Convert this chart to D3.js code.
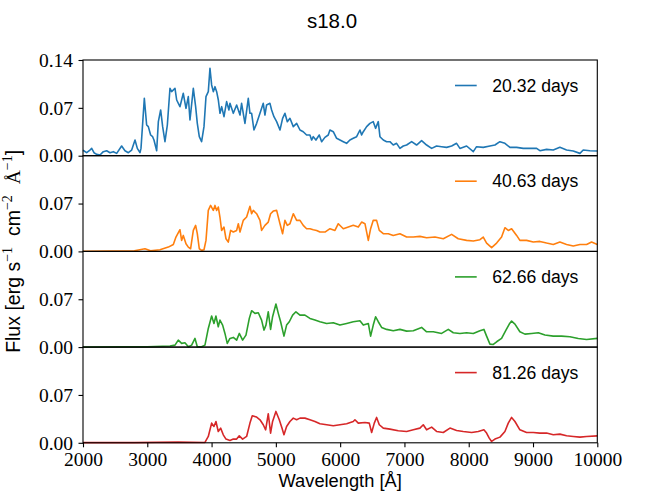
<!DOCTYPE html>
<meta charset="utf-8">
<style>
    body { margin: 0; background: #fff; }
    .tick text { font-family: "Liberation Serif", "Times New Roman", serif; font-size: 19.5px; fill: #000; }
    .tick line { stroke: #000; stroke-width: 1.1; }
    .sans { font-family: "Liberation Sans", Arial, sans-serif; fill: #000; }
    .serif { font-family: "Liberation Serif", "Times New Roman", serif; }
</style>
<svg id="chart" width="664" height="498"></svg>
<script src="https://cdn.jsdelivr.net/npm/d3@7/dist/d3.min.js"></script>
<script>
    const title = "s18.0";
    const epochs = ["20.32 days", "40.63 days", "62.66 days", "81.26 days"];
    const xTicks = [2000, 3000, 4000, 5000, 6000, 7000, 8000, 9000, 10000];
    const yTicksTop = [0, 0.07, 0.14];
    const yTicks = [0, 0.07];

    // [wavelength (A), flux]
    const spec20 = [
        [2000, 0.0080], [2057, 0.0044], [2098, 0.0073], [2135, 0.0107], [2171, 0.0044], [2213, 0.0020],
        [2264, 0.0010], [2316, 0.0059], [2368, 0.0073], [2420, 0.0044], [2472, 0.0059], [2524, 0.0034],
        [2601, 0.0142], [2653, 0.0073], [2705, 0.0044], [2757, 0.0083], [2809, 0.0229], [2845, 0.0107],
        [2886, 0.0044], [2902, 0.0107], [2954, 0.0839], [2990, 0.0449], [3016, 0.0425], [3052, 0.0303],
        [3083, 0.0278], [3104, 0.0229], [3146, 0.0073], [3172, 0.0498], [3208, 0.0669], [3239, 0.0425],
        [3275, 0.0205], [3312, 0.0449], [3353, 0.0986], [3379, 0.0937], [3431, 0.0986], [3457, 0.0815],
        [3508, 0.0717], [3560, 0.0913], [3602, 0.0693], [3638, 0.0864], [3664, 0.0522], [3716, 0.0986],
        [3752, 0.0717], [3778, 0.0473], [3809, 0.0278], [3845, 0.0205], [3882, 0.0425], [3913, 0.0864],
        [3949, 0.0937], [3975, 0.1279], [4001, 0.1035], [4027, 0.0937], [4053, 0.1010], [4079, 0.0937],
        [4105, 0.0815], [4131, 0.0620], [4157, 0.0717], [4193, 0.0571], [4234, 0.0791], [4270, 0.0669],
        [4286, 0.0766], [4338, 0.0620], [4390, 0.0742], [4442, 0.0595], [4467, 0.0766], [4519, 0.0473],
        [4571, 0.0839], [4597, 0.0620], [4623, 0.0620], [4659, 0.0376], [4701, 0.0473], [4753, 0.0620],
        [4804, 0.0766], [4830, 0.0595], [4856, 0.0742], [4908, 0.0766], [4934, 0.0669], [4970, 0.0571],
        [5012, 0.0498], [5064, 0.0376], [5105, 0.0547], [5141, 0.0620], [5178, 0.0498], [5219, 0.0547],
        [5271, 0.0425], [5323, 0.0473], [5375, 0.0376], [5426, 0.0351], [5478, 0.0303], [5530, 0.0303],
        [5556, 0.0229], [5582, 0.0278], [5623, 0.0229], [5675, 0.0303], [5712, 0.0205], [5763, 0.0268],
        [5815, 0.0303], [5841, 0.0376], [5893, 0.0351], [5945, 0.0254], [5997, 0.0229], [6049, 0.0205],
        [6100, 0.0181], [6152, 0.0229], [6204, 0.0254], [6256, 0.0278], [6308, 0.0376], [6334, 0.0303],
        [6360, 0.0351], [6412, 0.0425], [6463, 0.0473], [6515, 0.0498], [6551, 0.0400], [6593, 0.0498],
        [6619, 0.0278], [6671, 0.0229], [6723, 0.0205], [6774, 0.0205], [6826, 0.0156], [6878, 0.0181],
        [6930, 0.0107], [6982, 0.0142], [7034, 0.0156], [7112, 0.0205], [7189, 0.0156], [7267, 0.0220],
        [7345, 0.0156], [7423, 0.0107], [7500, 0.0142], [7578, 0.0132], [7656, 0.0122], [7734, 0.0142],
        [7811, 0.0181], [7863, 0.0107], [7967, 0.0142], [8071, 0.0059], [8122, 0.0132], [8226, 0.0122],
        [8330, 0.0142], [8408, 0.0156], [8485, 0.0205], [8563, 0.0181], [8641, 0.0122], [8745, 0.0122],
        [8848, 0.0107], [8952, 0.0107], [9056, 0.0107], [9107, 0.0073], [9211, 0.0093], [9315, 0.0083],
        [9418, 0.0122], [9522, 0.0083], [9626, 0.0068], [9730, 0.0034], [9781, 0.0083], [9885, 0.0073],
        [10000, 0.0068]
    ];

    const spec40 = [
        [2000, 0.0003], [2400, 0.0005], [2800, 0.0010], [2964, 0.0040], [3050, 0.0010], [3197, 0.0024],
        [3327, 0.0063], [3405, 0.0102], [3446, 0.0210], [3508, 0.0317], [3534, 0.0161], [3560, 0.0234],
        [3602, 0.0112], [3638, 0.0063], [3674, 0.0039], [3716, 0.0307], [3752, 0.0381], [3778, 0.0259],
        [3809, 0.0039], [3845, 0.0015], [3882, 0.0024], [3913, 0.0161], [3949, 0.0600], [3985, 0.0673],
        [4027, 0.0600], [4053, 0.0673], [4079, 0.0600], [4105, 0.0649], [4130, 0.0503], [4156, 0.0307],
        [4193, 0.0356], [4224, 0.0185], [4260, 0.0137], [4296, 0.0307], [4338, 0.0283], [4390, 0.0307],
        [4416, 0.0405], [4442, 0.0283], [4493, 0.0454], [4545, 0.0503], [4597, 0.0659], [4623, 0.0551],
        [4649, 0.0600], [4701, 0.0551], [4753, 0.0454], [4778, 0.0307], [4830, 0.0381], [4882, 0.0429],
        [4918, 0.0551], [4960, 0.0590], [5012, 0.0600], [5064, 0.0405], [5105, 0.0259], [5141, 0.0454],
        [5178, 0.0381], [5219, 0.0405], [5271, 0.0551], [5323, 0.0454], [5375, 0.0454], [5426, 0.0381],
        [5478, 0.0332], [5530, 0.0332], [5582, 0.0317], [5634, 0.0307], [5686, 0.0283], [5764, 0.0283],
        [5842, 0.0332], [5919, 0.0307], [5971, 0.0405], [6049, 0.0332], [6127, 0.0356], [6204, 0.0381],
        [6282, 0.0356], [6334, 0.0429], [6386, 0.0405], [6438, 0.0161], [6474, 0.0332], [6515, 0.0454],
        [6567, 0.0454], [6609, 0.0307], [6671, 0.0259], [6749, 0.0259], [6826, 0.0234], [6930, 0.0259],
        [7034, 0.0210], [7138, 0.0210], [7241, 0.0220], [7345, 0.0200], [7474, 0.0210], [7604, 0.0185],
        [7734, 0.0249], [7837, 0.0185], [7967, 0.0161], [8071, 0.0151], [8174, 0.0171], [8226, 0.0210],
        [8278, 0.0122], [8356, 0.0054], [8434, 0.0122], [8511, 0.0210], [8563, 0.0346], [8615, 0.0307],
        [8667, 0.0332], [8745, 0.0234], [8796, 0.0161], [8900, 0.0161], [9004, 0.0137], [9107, 0.0146],
        [9211, 0.0122], [9315, 0.0102], [9418, 0.0137], [9522, 0.0102], [9626, 0.0078], [9730, 0.0102],
        [9833, 0.0102], [9911, 0.0137], [10000, 0.0102]
    ];

    const spec62 = [
        [2000, 0.0002], [2600, 0.0005], [3000, 0.0005], [3353, 0.0015], [3431, 0.0029], [3482, 0.0102],
        [3534, 0.0054], [3586, 0.0063], [3638, 0.0005], [3690, 0.0029], [3742, 0.0127], [3778, 0.0005],
        [3845, 0.0005], [3897, 0.0029], [3949, 0.0273], [4001, 0.0454], [4037, 0.0346], [4068, 0.0454],
        [4104, 0.0298], [4130, 0.0395], [4172, 0.0322], [4208, 0.0200], [4244, 0.0054], [4286, 0.0127],
        [4338, 0.0142], [4390, 0.0102], [4431, 0.0200], [4483, 0.0102], [4535, 0.0176], [4587, 0.0420],
        [4623, 0.0532], [4675, 0.0493], [4727, 0.0503], [4778, 0.0395], [4815, 0.0249], [4846, 0.0322],
        [4882, 0.0517], [4918, 0.0259], [4949, 0.0444], [5001, 0.0630], [5038, 0.0493], [5074, 0.0371],
        [5126, 0.0161], [5167, 0.0322], [5209, 0.0371], [5261, 0.0468], [5312, 0.0517], [5375, 0.0468],
        [5452, 0.0468], [5530, 0.0420], [5608, 0.0395], [5686, 0.0371], [5790, 0.0346], [5893, 0.0356],
        [5997, 0.0322], [6101, 0.0346], [6204, 0.0371], [6308, 0.0386], [6360, 0.0322], [6438, 0.0346],
        [6474, 0.0161], [6515, 0.0322], [6552, 0.0444], [6593, 0.0371], [6645, 0.0288], [6723, 0.0259],
        [6826, 0.0239], [6930, 0.0259], [7034, 0.0234], [7138, 0.0239], [7267, 0.0288], [7345, 0.0224],
        [7449, 0.0224], [7578, 0.0200], [7682, 0.0259], [7760, 0.0210], [7863, 0.0200], [7967, 0.0210],
        [8071, 0.0200], [8174, 0.0239], [8236, 0.0259], [8278, 0.0161], [8330, 0.0044], [8382, 0.0039],
        [8434, 0.0078], [8511, 0.0127], [8579, 0.0249], [8631, 0.0337], [8667, 0.0381], [8719, 0.0337],
        [8796, 0.0224], [8874, 0.0190], [8978, 0.0200], [9082, 0.0210], [9186, 0.0176], [9315, 0.0161],
        [9444, 0.0161], [9574, 0.0151], [9704, 0.0127], [9833, 0.0112], [10000, 0.0127]
    ];

    const spec81 = [
        [2000, 0.0002], [2800, 0.0003], [3482, 0.0010], [3897, 0.0005], [3949, 0.0093], [4001, 0.0288],
        [4037, 0.0239], [4068, 0.0312], [4104, 0.0166], [4141, 0.0215], [4182, 0.0117], [4224, 0.0054],
        [4286, 0.0034], [4338, 0.0054], [4390, 0.0054], [4431, 0.0102], [4483, 0.0054], [4545, 0.0093],
        [4597, 0.0288], [4633, 0.0395], [4701, 0.0376], [4753, 0.0337], [4804, 0.0264], [4841, 0.0190],
        [4882, 0.0425], [4918, 0.0142], [4949, 0.0312], [5001, 0.0459], [5053, 0.0337], [5095, 0.0215],
        [5126, 0.0117], [5167, 0.0239], [5219, 0.0312], [5271, 0.0361], [5323, 0.0337], [5375, 0.0361],
        [5452, 0.0361], [5530, 0.0337], [5608, 0.0312], [5686, 0.0278], [5790, 0.0264], [5893, 0.0249],
        [5997, 0.0264], [6101, 0.0278], [6204, 0.0312], [6230, 0.0337], [6282, 0.0288], [6386, 0.0298],
        [6453, 0.0288], [6490, 0.0151], [6531, 0.0288], [6567, 0.0371], [6609, 0.0264], [6671, 0.0215],
        [6775, 0.0200], [6904, 0.0176], [7034, 0.0166], [7138, 0.0190], [7241, 0.0215], [7293, 0.0264],
        [7345, 0.0190], [7423, 0.0229], [7500, 0.0166], [7604, 0.0151], [7708, 0.0215], [7811, 0.0181],
        [7915, 0.0166], [8045, 0.0151], [8148, 0.0166], [8236, 0.0190], [8278, 0.0142], [8319, 0.0068],
        [8356, 0.0020], [8408, 0.0054], [8486, 0.0083], [8563, 0.0166], [8615, 0.0288], [8667, 0.0371],
        [8719, 0.0312], [8796, 0.0190], [8900, 0.0151], [9004, 0.0151], [9107, 0.0142], [9211, 0.0142],
        [9315, 0.0117], [9418, 0.0127], [9522, 0.0102], [9626, 0.0093], [9730, 0.0083], [9833, 0.0093],
        [10000, 0.0102]
    ];

    const spectra = [spec20, spec40, spec62, spec81];
    const colors = ["#1f77b4", "#ff7f0e", "#2ca02c", "#d62728"];

    const plotLeft = 83, plotRight = 597.3, plotTop = 60, plotBottom = 442.8;
    const panelH = (plotBottom - plotTop) / spectra.length;
    const serifFont = "'Liberation Serif', 'Times New Roman', serif";

    const svg = d3.select("#chart");
    const x = d3.scaleLinear().domain([2000, 10000]).range([plotLeft, plotRight]);

    spectra.forEach((spec, i) => {
        const pTop = plotTop + i * panelH;
        const y = d3.scaleLinear().domain([0, 0.14]).range([pTop + panelH, pTop]);
        const line = d3.line().x(d => x(d[0])).y(d => y(d[1]));

        svg.append("path")
            .datum(spec)
            .attr("d", line)
            .attr("fill", "none")
            .attr("stroke", colors[i])
            .attr("stroke-width", 1.6)
            .attr("stroke-linejoin", "round");

        const yAxis = svg.append("g")
            .attr("transform", `translate(${plotLeft},0)`)
            .call(d3.axisLeft(y)
                .tickValues(i === 0 ? yTicksTop : yTicks)
                .tickFormat(d3.format(".2f"))
                .tickSize(4.5)
                .tickSizeOuter(0)
                .tickPadding(5.5))
            .attr("font-family", serifFont)
            .attr("font-size", 19.5);
        yAxis.select(".domain").remove();

        svg.append("rect")
            .attr("x", plotLeft).attr("y", pTop)
            .attr("width", plotRight - plotLeft).attr("height", panelH)
            .attr("fill", "none")
            .attr("stroke", "#000")
            .attr("stroke-width", 1.1);

        // legend
        const ly = pTop + 25.5;
        svg.append("line")
            .attr("x1", 455).attr("x2", 476.7)
            .attr("y1", ly).attr("y2", ly)
            .attr("stroke", colors[i])
            .attr("stroke-width", 1.6);
        svg.append("text")
            .attr("class", "sans")
            .attr("x", 492.3).attr("y", ly + 6.2)
            .attr("font-size", "17.6px")
            .text(epochs[i]);
    });

    const xAxis = svg.append("g")
        .attr("transform", `translate(0,${plotBottom})`)
        .call(d3.axisBottom(x)
            .tickValues(xTicks)
            .tickFormat(d3.format("d"))
            .tickSize(4.5)
            .tickSizeOuter(0)
            .tickPadding(5))
        .attr("font-family", serifFont)
        .attr("font-size", 19.5);
    xAxis.select(".domain").remove();

    svg.append("text")
        .attr("class", "sans")
        .attr("x", 332).attr("y", 28.3)
        .attr("text-anchor", "middle")
        .attr("font-size", "20.5px")
        .text(title);

    svg.append("text")
        .attr("class", "sans")
        .attr("x", (plotLeft + plotRight) / 2).attr("y", 486.7)
        .attr("text-anchor", "middle")
        .attr("font-size", "18.3px")
        .text("Wavelength [Å]");

    // y label with superscripts
    const yl = svg.append("text")
        .attr("class", "sans")
        .attr("text-anchor", "middle")
        .attr("font-size", "19.5px")
        .attr("transform", `translate(19.5,${(plotTop + plotBottom) / 2}) rotate(-90)`);
    const parts = [
        ["Flux [erg s", false, false],
        ["\u22121", true, true],
        ["  cm", false, false],
        ["\u22122", true, true],
        ["  ", false, false],
        ["Å", false, true],
        ["\u22121", true, true],
        ["]", false, false]
    ];
    let raised = false;
    parts.forEach(([t, sup, serif]) => {
        const ts = yl.append("tspan").text(t).style("white-space", "pre");
        if (serif) ts.attr("class", "serif");
        if (sup) ts.attr("font-size", "14px");
        if (sup && !raised) { ts.attr("dy", -8); raised = true; }
        if (!sup && raised) { ts.attr("dy", 8); raised = false; }
    });
</script>
